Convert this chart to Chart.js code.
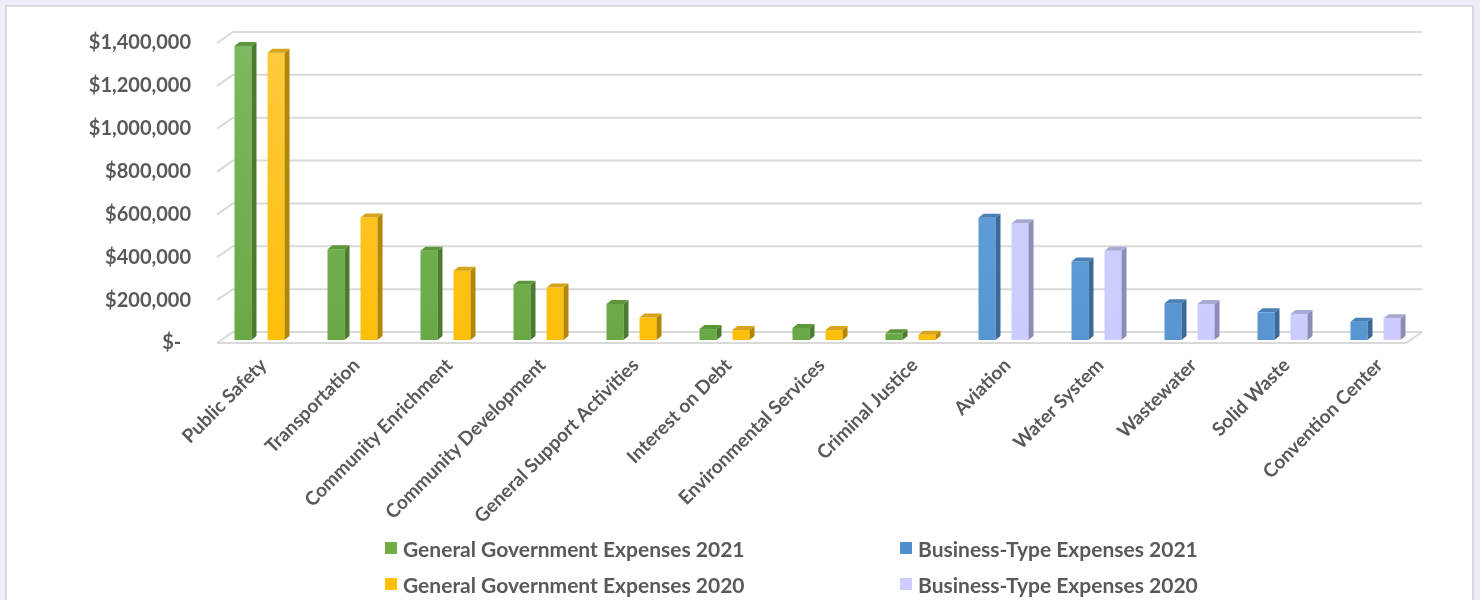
<!DOCTYPE html>
<html>
<head>
<meta charset="utf-8">
<script src="https://cdn.jsdelivr.net/npm/chart.js@4.4.0/dist/chart.umd.min.js"></script>
<style>
  html, body { margin: 0; padding: 0; }
  body { width: 1480px; height: 600px; background: #eeecf8; overflow: hidden; position: relative; font-family: Lato, "Open Sans", sans-serif; }
  #panel { position: absolute; left: 5px; top: 5px; width: 1465px; height: 620px; background: #fff; border: 2px solid #d9d9d9; }
  #wrap { position: absolute; left: 0; top: 0; width: 1480px; height: 600px; }
  #legend { position: absolute; left: 0; top: 0; width: 1480px; height: 600px; pointer-events: none; }
  .item { position: absolute; display: flex; align-items: center; font-size: 21px; font-weight: bold; color: #595959; white-space: nowrap; }
  .item span.box { width: 12px; height: 12px; margin-right: 6px; display: inline-block; }
</style>
</head>
<body>
<div id="panel"></div>
<div id="wrap"><canvas id="myChart"></canvas></div>
<div id="legend"></div>
<script>
// expense categories, general government first, business-type last
var categories = ["Public Safety", "Transportation", "Community Enrichment", "Community Development",
  "General Support Activities", "Interest on Debt", "Environmental Services", "Criminal Justice",
  "Aviation", "Water System", "Wastewater", "Solid Waste", "Convention Center"];

var govExpenses2021 = [1372000, 424000, 416000, 258000, 168000, 51000, 56000, 31000, null, null, null, null, null];
var govExpenses2020 = [1341000, 572000, 323000, 245000, 105000, 47000, 47000, 25000, null, null, null, null, null];
var bizExpenses2021 = [null, null, null, null, null, null, null, null, 571000, 366000, 172000, 129000, 85000];
var bizExpenses2020 = [null, null, null, null, null, null, null, null, 545000, 416000, 168000, 121000, 101000];

var yTicks = [0, 200000, 400000, 600000, 800000, 1000000, 1200000, 1400000];

var seriesNames = ["General Government Expenses 2021", "General Government Expenses 2020",
  "Business-Type Expenses 2021", "Business-Type Expenses 2020"];

// front, side, top colours for each series
var faces = [
  { front: "#69a945", light: "#7db960", side: "#4a7b2e", top: "#5d963b" },
  { front: "#fcbf0a", light: "#ffca3f", side: "#b38800", top: "#d7a31c" },
  { front: "#5796d3", light: "#6aa4dc", side: "#3a6a98", top: "#4a80b6" },
  { front: "#cbcbfd", light: "#d3d3ff", side: "#8c8cb6", top: "#a9a9d6" }
];

function frontGradient(i) {
  return function (c) {
    var area = c.chart.chartArea;
    if (!area) return faces[i].front;
    var g = c.chart.ctx.createLinearGradient(0, area.bottom, 0, area.top);
    g.addColorStop(0, faces[i].front);
    g.addColorStop(1, faces[i].light);
    return g;
  };
}

// floor and back wall grid, drawn slanted like a 3-D chart
var wallPlugin = {
  id: "walls",
  beforeDatasetsDraw: function (chart) {
    var ctx = chart.ctx, a = chart.chartArea, y = chart.scales.y;
    var L = a.left + 4, R = a.right, dx = 16, up = 8, down = 3;
    ctx.save();
    ctx.strokeStyle = "#d9d9d9";
    ctx.lineWidth = 2;
    yTicks.forEach(function (v) {
      var py = y.getPixelForValue(v);
      ctx.beginPath();
      ctx.moveTo(L, py + down);
      ctx.lineTo(L + dx, py - up);
      ctx.lineTo(R, py - up);
      ctx.stroke();
    });
    var p0 = y.getPixelForValue(0);
    ctx.beginPath();
    ctx.moveTo(L, p0 + down);
    ctx.lineTo(R - dx, p0 + down);
    ctx.lineTo(R, p0 - up);
    ctx.stroke();
    ctx.restore();
  }
};

// side and top faces for each bar
var bar3dPlugin = {
  id: "bar3d",
  afterDatasetsDraw: function (chart) {
    var ctx = chart.ctx, dx = 5, dy = 4;
    ctx.save();
    chart.data.datasets.forEach(function (ds, i) {
      var meta = chart.getDatasetMeta(i);
      meta.data.forEach(function (bar, j) {
        if (ds.data[j] == null) return;
        var p = bar.getProps(["x", "y", "base", "width"], true);
        var l = p.x - p.width / 2, r = p.x + p.width / 2;
        ctx.fillStyle = faces[i].side;
        ctx.beginPath();
        ctx.moveTo(r, p.y);
        ctx.lineTo(r + dx, p.y - dy);
        ctx.lineTo(r + dx, p.base - dy);
        ctx.lineTo(r, p.base);
        ctx.closePath();
        ctx.fill();
        ctx.fillStyle = faces[i].top;
        ctx.beginPath();
        ctx.moveTo(l, p.y);
        ctx.lineTo(l + dx, p.y - dy);
        ctx.lineTo(r + dx, p.y - dy);
        ctx.lineTo(r, p.y);
        ctx.closePath();
        ctx.fill();
      });
    });
    ctx.restore();
  }
};

var allSeries = [govExpenses2021, govExpenses2020, bizExpenses2021, bizExpenses2020];

var ctx = document.getElementById("myChart").getContext("2d");
var myChart = new Chart(ctx, {
  type: "bar",
  data: {
    labels: categories,
    datasets: allSeries.map(function (d, i) {
      return {
        label: seriesNames[i],
        data: d,
        backgroundColor: frontGradient(i),
        borderWidth: 0,
        skipNull: true,
        categoryPercentage: 0.71,
        barPercentage: 0.515
      };
    })
  },
  options: {
    responsive: true,
    maintainAspectRatio: false,
    devicePixelRatio: 1,
    animation: false,
    layout: { padding: { top: 40, right: 58, left: 0, bottom: 0 } },
    plugins: {
      legend: { display: false },
      tooltip: { enabled: false }
    },
    scales: {
      x: {
        grid: { display: false },
        border: { display: false },
        ticks: {
          autoSkip: false,
          maxRotation: 45,
          minRotation: 45,
          padding: 6,
          labelOffset: 4,
          color: "#595959",
          font: { family: "Lato", size: 19, weight: "bold" }
        },
        afterFit: function (s) { s.height = 260; }
      },
      y: {
        min: 0,
        max: 1400000,
        grid: { display: false },
        border: { display: false },
        afterBuildTicks: function (s) {
          s.ticks = yTicks.map(function (v) { return { value: v }; });
        },
        ticks: {
          padding: 14,
          labelOffset: 3,
          color: "#595959",
          font: { family: "Lato", size: 20, weight: "bold" },
          callback: function (v) {
            return v === 0 ? "$-  " : "$" + Number(v).toLocaleString("en-US");
          }
        },
        afterFit: function (s) { s.width = 213; }
      }
    }
  },
  plugins: [wallPlugin, bar3dPlugin]
});

// two-column legend under the chart
var legendSpots = [[385, 548], [385, 584], [900, 548], [900, 584]];
var legendColors = ["#70ad47", "#ffc000", "#4f8fd0", "#ccccff"];
var legend = document.getElementById("legend");
seriesNames.forEach(function (name, i) {
  var el = document.createElement("div");
  el.className = "item";
  el.style.left = legendSpots[i][0] + "px";
  el.style.top = (legendSpots[i][1] - 13) + "px";
  el.style.height = "26px";
  el.innerHTML = '<span class="box" style="background:' + legendColors[i] + '"></span>' + name;
  legend.appendChild(el);
});
</script>
</body>
</html>
